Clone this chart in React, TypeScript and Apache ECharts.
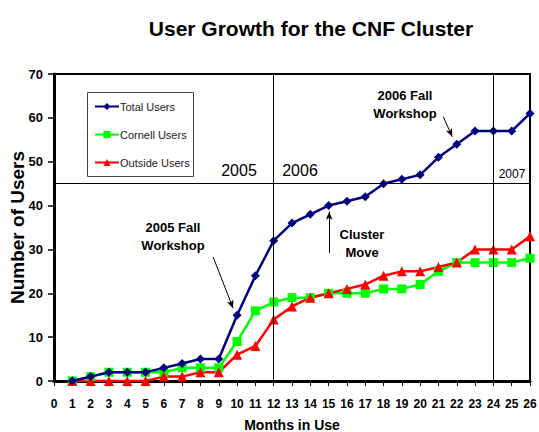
import React, { useEffect, useRef } from "react";
import * as echarts from "echarts";

const months = [1, 2, 3, 4, 5, 6, 7, 8, 9, 10, 11, 12, 13, 14, 15, 16, 17, 18, 19, 20, 21, 22, 23, 24, 25, 26];
const totalUsers = [0, 1, 2, 2, 2, 3, 4, 5, 5, 15, 24, 32, 36, 38, 40, 41, 42, 45, 46, 47, 51, 54, 57, 57, 57, 61];
const cornellUsers = [0, 1, 2, 2, 2, 2, 3, 3, 3, 9, 16, 18, 19, 19, 20, 20, 20, 21, 21, 22, 25, 27, 27, 27, 27, 28];
const outsideUsers = [0, 0, 0, 0, 0, 1, 1, 2, 2, 6, 8, 14, 17, 19, 20, 21, 22, 24, 25, 25, 26, 27, 30, 30, 30, 33];

const yearDividers = [12, 24];
const yearLineY = 45;
const arrows = [
  { from: [8.69, 28.3], to: [9.78, 16.6] },
  { from: [21.26, 60.3], to: [21.75, 55.7] },
  { from: [15.03, 29.2], to: [15.03, 38.6] },
];

const FONT = "Liberation Sans, Arial, Helvetica, sans-serif";

export default function App() {
  const ref = useRef<HTMLDivElement>(null);
  useEffect(() => {
    if (!ref.current) return;
    const chart = echarts.init(ref.current, null, { renderer: "svg" });
    const pair = (arr: number[]) => months.map((m, i) => [m, arr[i]]);
    chart.setOption({
      animation: false,
      backgroundColor: "#ffffff",
      textStyle: { fontFamily: FONT },
      title: {
        text: "User Growth for the CNF Cluster",
        left: 306,
        top: 13,
        textAlign: "center",
        textStyle: { fontFamily: FONT, fontSize: 21, fontWeight: "bold", color: "#000" },
      },
      grid: {
        left: 54,
        right: 9,
        top: 74,
        bottom: 51,
        containLabel: false,
        outerBoundsMode: "none",
        show: true,
        borderColor: "#000",
        borderWidth: 2,
        backgroundColor: "transparent",
      },
      legend: {
        orient: "vertical",
        left: 89,
        top: 96,
        itemWidth: 24,
        itemHeight: 9,
        itemGap: 17,
        textStyle: { fontFamily: FONT, fontSize: 11, color: "#222", padding: [0, 0, 0, -4] },
        data: ["Total Users", "Cornell Users", "Outside Users"],
      },
      xAxis: {
        type: "value",
        min: 0,
        max: 26,
        interval: 1,
        name: "Months in Use",
        nameLocation: "middle",
        nameGap: 37,
        nameMoveOverlap: false,
        nameTextStyle: { fontFamily: FONT, fontSize: 14, fontWeight: "bold", color: "#000" },
        axisLine: { show: true, lineStyle: { color: "#000", width: 3 } },
        axisTick: { show: true, length: 5, lineStyle: { color: "#000", width: 1 } },
        axisLabel: { fontFamily: FONT, fontSize: 12, fontWeight: "bold", color: "#000", margin: 17 },
        splitLine: { show: false },
      },
      yAxis: {
        type: "value",
        min: 0,
        max: 70,
        interval: 10,
        name: "Number of Users",
        nameLocation: "middle",
        nameGap: 27,
        nameMoveOverlap: false,
        nameTextStyle: { fontFamily: FONT, fontSize: 19, fontWeight: "bold", color: "#000" },
        axisLine: { show: true, lineStyle: { color: "#000", width: 3 } },
        axisTick: { show: true, length: 6, lineStyle: { color: "#000", width: 1.5 } },
        axisLabel: { fontFamily: FONT, fontSize: 13, fontWeight: "bold", color: "#000", margin: 11 },
        splitLine: { show: false },
      },
      graphic: [
        { type: "rect", left: 85, top: 90, shape: { width: 106, height: 84 }, style: { fill: "none", stroke: "#444", lineWidth: 1 }, z: 1 },
        { type: "text", x: 239, y: 170, style: { text: "2005", font: `16px ${FONT}`, fill: "#000", textAlign: "center", textVerticalAlign: "middle" } },
        { type: "text", x: 300, y: 170, style: { text: "2006", font: `16px ${FONT}`, fill: "#000", textAlign: "center", textVerticalAlign: "middle" } },
        { type: "text", x: 512, y: 174, style: { text: "2007", font: `12px ${FONT}`, fill: "#000", textAlign: "center", textVerticalAlign: "middle" } },
        { type: "text", x: 173, y: 236, style: { text: "2005 Fall\nWorkshop", font: `bold 13px ${FONT}`, lineHeight: 18, fill: "#000", textAlign: "center", textVerticalAlign: "middle" } },
        { type: "text", x: 405, y: 104, style: { text: "2006 Fall\nWorkshop", font: `bold 13px ${FONT}`, lineHeight: 18, fill: "#000", textAlign: "center", textVerticalAlign: "middle" } },
        { type: "text", x: 362, y: 243, style: { text: "Cluster\nMove", font: `bold 13px ${FONT}`, lineHeight: 18, fill: "#000", textAlign: "center", textVerticalAlign: "middle" } },
      ],
      series: [
        {
          name: "Total Users",
          type: "line",
          data: pair(totalUsers),
          symbol: "diamond",
          symbolSize: 9,
          showAllSymbol: true,
          itemStyle: { color: "#000080" },
          lineStyle: { color: "#000080", width: 2.5 },
          z: 4,
          markLine: {
            silent: true,
            symbol: ["none", "none"],
            label: { show: false },
            lineStyle: { color: "#000", width: 1, type: "solid" },
            data: [
              ...yearDividers.map((x) => ({ xAxis: x })),
              { yAxis: yearLineY },
            ],
          },
        },
        {
          name: "Cornell Users",
          type: "line",
          data: pair(cornellUsers),
          symbol: "rect",
          symbolSize: 9,
          showAllSymbol: true,
          itemStyle: { color: "#00ff00" },
          lineStyle: { color: "#00ff00", width: 2.5 },
          z: 3,
          markLine: {
            silent: true,
            symbol: ["none", "arrow"],
            symbolSize: [5, 8],
            label: { show: false },
            lineStyle: { color: "#000", width: 1, type: "solid" },
            data: arrows.map((a) => [{ coord: a.from }, { coord: a.to }]),
          },
        },
        {
          name: "Outside Users",
          type: "line",
          data: pair(outsideUsers),
          symbol: "triangle",
          symbolSize: 10,
          showAllSymbol: true,
          itemStyle: { color: "#ff0000" },
          lineStyle: { color: "#ff0000", width: 2.5 },
          z: 3,
        },
      ],
    });
    return () => chart.dispose();
  }, []);
  return <div ref={ref} style={{ position: "absolute", left: 0, top: 0, width: 539, height: 432 }} />;
}
